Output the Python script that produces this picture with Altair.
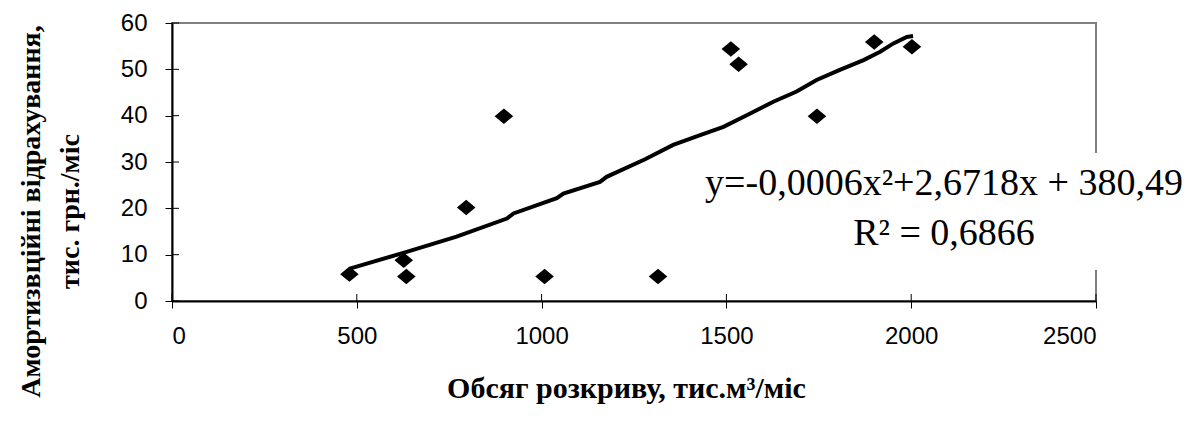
import altair as alt
import pandas as pd

# ---- data ----
x_vals = [480, 627, 634, 796, 898, 1008, 1315, 1512, 1533, 1745, 1900, 2002]
y_vals = [5.8, 8.8, 5.3, 20.2, 39.9, 5.3, 5.3, 54.4, 51.1, 39.9, 55.9, 54.9]

trend_x = [481, 635, 770, 906, 924, 1041, 1059, 1158, 1176, 1280, 1356, 1429,
           1492, 1555, 1627, 1690, 1744, 1807, 1871, 1916, 1952, 1988, 2005]
trend_y = [7.0, 10.6, 13.9, 17.8, 18.9, 22.2, 23.2, 25.7, 26.8, 30.6, 33.7, 35.8,
           37.6, 40.1, 43.0, 45.2, 47.7, 49.9, 52.0, 53.8, 55.6, 57.0, 57.2]

x_ticks = [0, 500, 1000, 1500, 2000, 2500]
y_ticks = [0, 10, 20, 30, 40, 50, 60]

equation_lines = ["y=-0,0006x²+2,6718x + 380,49", "R² = 0,6866"]
x_title = "Обсяг розкриву, тис.м³/міс"
y_title = ["Амортизвційні відрахування,", "тис. грн./міс"]

W, H = 924, 278

pts = pd.DataFrame({"x": x_vals, "y": y_vals})
trend = pd.DataFrame({"x": trend_x, "y": trend_y})
xt = pd.DataFrame({"x": x_ticks})
yt = pd.DataFrame({"y": y_ticks})

xscale = alt.Scale(domain=[0, 2500], nice=False, zero=False)
yscale = alt.Scale(domain=[0, 60], nice=False, zero=False)

xaxis = alt.Axis(
    values=x_ticks, format="d", title=x_title, grid=False,
    tickSize=7, tickColor="black", tickWidth=1,
    domainColor="black", domainWidth=2,
    labelFont="Liberation Sans", labelFontSize=24, labelColor="black",
    labelPadding=16,
    titleFont="Liberation Serif", titleFontWeight="bold", titleFontSize=30,
    titleColor="black", titleX=454, titleY=96, titleBaseline="alphabetic",
    titleAlign="center",
)
yaxis = alt.Axis(
    values=y_ticks, format="d", title=y_title, grid=False,
    tickSize=7, tickColor="black", tickWidth=1,
    domainColor="black", domainWidth=2,
    labelFont="Liberation Sans", labelFontSize=24, labelColor="black",
    labelPadding=18,
    titleFont="Liberation Serif", titleFontWeight="bold", titleFontSize=28,
    titleColor="black", titleAngle=-90, titleX=-133, titleY=188,
    titleAlign="center", titleBaseline="alphabetic", titleLineHeight=39,
)

X = alt.X("x:Q", scale=xscale, axis=xaxis)
Y = alt.Y("y:Q", scale=yscale, axis=yaxis)

box = alt.Chart(pd.DataFrame({"a": [0]})).mark_rect(color="white").encode(
    x=alt.value(517), x2=alt.value(1016), y=alt.value(130), y2=alt.value(247)
)

line = alt.Chart(trend).mark_line(color="black", strokeWidth=4).encode(x=X, y=Y)

points = alt.Chart(pts).mark_point(
    shape="M-1.2,0L0,-1L1.2,0L0,1Z", filled=True, color="black",
    size=240, opacity=1
).encode(x=X, y=Y)

xin = alt.Chart(xt).mark_rule(color="black", strokeWidth=1).encode(
    x=X, y=alt.value(H - 7), y2=alt.value(H)
)
yin = alt.Chart(yt).mark_rule(color="black", strokeWidth=1).encode(
    y=Y, x=alt.value(0), x2=alt.value(7)
)

eq = alt.Chart(pd.DataFrame({"a": [0]})).mark_text(
    text=equation_lines, font="Liberation Serif", fontSize=38, lineHeight=50,
    align="center", baseline="alphabetic", color="black"
).encode(x=alt.value(772), y=alt.value(172))

chart = alt.layer(box, line, points, xin, yin, eq).properties(
    width=W, height=H,
    padding={"left": 172, "top": 23, "right": 94, "bottom": 143},
    autosize=alt.AutoSizeParams(type="none"),
    background="white",
).configure_view(stroke="#808080", strokeWidth=2)

chart.save("out.html", embed_options={"renderer": "svg", "actions": False})
